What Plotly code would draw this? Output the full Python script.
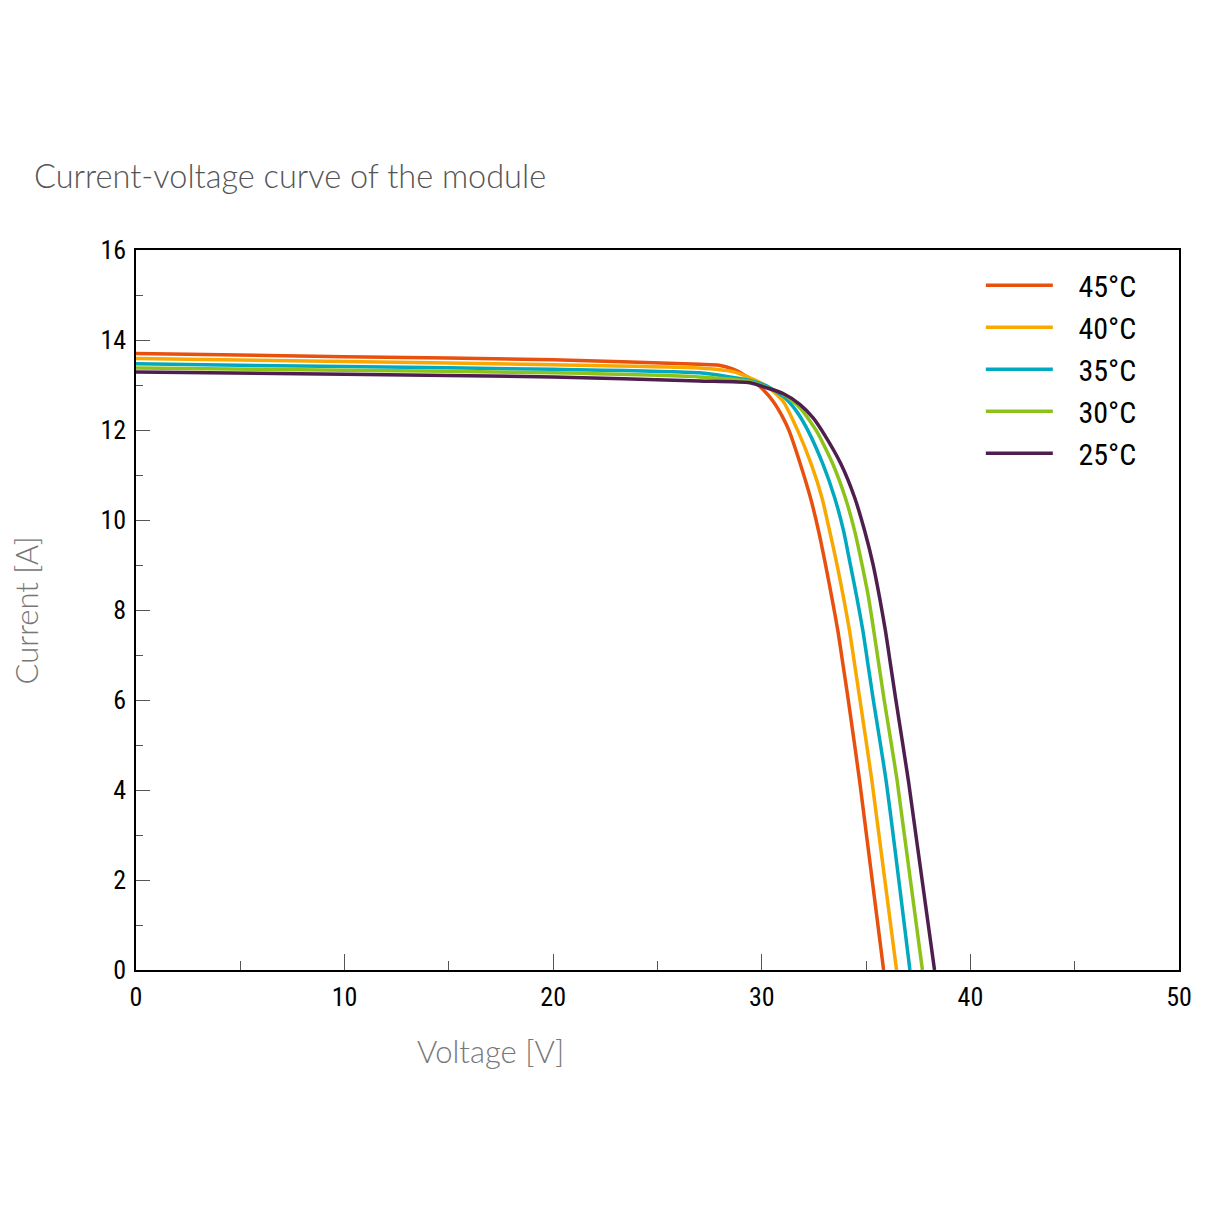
import plotly.graph_objects as go

# I-V curves (voltage [V], current [A])
v_45 = [0, 10, 20, 27, 27.95, 28.63, 29.1, 29.58, 30.06, 30.54, 31.02, 31.31, 31.85, 32.33,
        32.72, 33.05, 33.36, 33.65, 33.89, 34.13, 34.69, 35.84]
i_45 = [13.70, 13.63, 13.56, 13.46, 13.44, 13.35, 13.24, 13.09, 12.9, 12.64, 12.27, 11.98, 11.24, 10.5,
        9.76, 9.02, 8.27, 7.53, 6.79, 6.05, 4.2, 0]

v_40 = [0, 10, 20, 27, 28.6, 29.43, 30.22, 31.02, 31.73, 32.37, 32.88, 33.25, 33.6, 33.92,
        34.21, 34.45, 34.69, 35.28, 36.46]
i_40 = [13.59, 13.52, 13.45, 13.38, 13.3, 13.16, 12.98, 12.64, 11.98, 11.24, 10.5, 9.76, 9.02, 8.27,
        7.53, 6.79, 6.05, 4.2, 0]

v_35 = [0, 10, 20, 27, 29.43, 30.22, 31.02, 31.66, 32.22, 32.93, 33.49, 33.92, 34.24, 34.56,
        34.85, 35.09, 35.33, 35.96, 37.1]
i_35 = [13.47, 13.41, 13.35, 13.27, 13.1, 12.98, 12.75, 12.42, 11.98, 11.24, 10.5, 9.76, 9.02, 8.27,
        7.53, 6.79, 6.05, 4.2, 0]

v_30 = [0, 10, 20, 27, 29.43, 30.22, 31.02, 31.82, 32.62, 33.41, 34.0, 34.45, 34.8, 35.12,
        35.37, 35.61, 35.85, 36.49, 37.7]
i_30 = [13.38, 13.33, 13.27, 13.18, 13.08, 12.95, 12.8, 12.5, 11.98, 11.24, 10.5, 9.76, 9.02, 8.27,
        7.53, 6.79, 6.05, 4.2, 0]

v_25 = [0, 10, 20, 27, 29.43, 30.22, 31.02, 31.82, 32.46, 32.89, 33.8, 34.45, 34.93, 35.33,
        35.65, 35.93, 36.17, 36.41, 37.03, 38.28]
i_25 = [13.29, 13.24, 13.18, 13.09, 13.05, 12.94, 12.81, 12.57, 12.27, 11.98, 11.24, 10.5, 9.76, 9.02,
        8.27, 7.53, 6.79, 6.05, 4.2, 0]

labels = ["45°C", "40°C", "35°C", "30°C", "25°C"]
colors = ["#E8500E", "#F9A800", "#00A9BF", "#8CC31B", "#4E1E4F"]

NARROW = "Liberation Sans Narrow, Roboto Condensed, Arial Narrow, sans-serif"
LIGHT = "Lato, Roboto, sans-serif"
PAD = "\u00a0\u00a0\u00a0"  # gap between legend line and label

fig = go.Figure()
series = [(v_45, i_45), (v_40, i_40), (v_35, i_35), (v_30, i_30), (v_25, i_25)]
for k in range(len(series)):
    v, i = series[k]
    fig.add_trace(go.Scatter(
        x=v, y=i, mode="lines", name=PAD + labels[k], legendgroup=labels[k],
        line=dict(color=colors[k], width=3.5, shape="spline", smoothing=0.6),
    ))

axis_common = dict(
    showline=True, linecolor="black", linewidth=1.5, mirror=True,
    showgrid=False, zeroline=False,
    ticks="inside", tickcolor="#555", tickwidth=1, ticklabelstandoff=3,
    tickfont=dict(family=NARROW, size=26, color="black"),
)

fig.update_layout(
    width=1214, height=1214,
    paper_bgcolor="white", plot_bgcolor="white",
    margin=dict(l=128, r=43, t=242, b=252),
    showlegend=True,
    legend=dict(
        x=0.81, y=0.987, xanchor="left", yanchor="top",
        font=dict(family=NARROW, size=30, color="black"),
        bgcolor="rgba(0,0,0,0)", tracegroupgap=0, itemwidth=67,
    ),
    xaxis=dict(range=[0, 50], tickvals=[0, 10, 20, 30, 40, 50], ticklen=16,
               minor=dict(tickvals=[5, 15, 25, 35, 45], ticks="inside", ticklen=9,
                          tickcolor="#555", tickwidth=1),
               **axis_common),
    yaxis=dict(range=[0, 16], tickvals=list(range(0, 17, 2)), ticklen=14,
               minor=dict(tickvals=list(range(1, 16, 2)), ticks="inside", ticklen=7,
                          tickcolor="#555", tickwidth=1),
               **axis_common),
    annotations=[
        dict(text="Current-voltage curve of the module", xref="paper", yref="paper",
             x=-0.0995, y=1.104, xanchor="left", yanchor="middle", showarrow=False,
             font=dict(family=LIGHT, size=32.5, color="#555", weight=300)),
        dict(text="Voltage [V]", xref="paper", yref="paper",
             x=0.34, y=-0.113, xanchor="center", yanchor="middle", showarrow=False,
             font=dict(family=LIGHT, size=31, color="#777", weight=300)),
        dict(text="Current [A]", xref="paper", yref="paper", textangle=-90,
             x=-0.105, y=0.5, xanchor="center", yanchor="middle", showarrow=False,
             font=dict(family=LIGHT, size=31, color="#777", weight=300)),
    ],
)

fig.write_html("out.html")
